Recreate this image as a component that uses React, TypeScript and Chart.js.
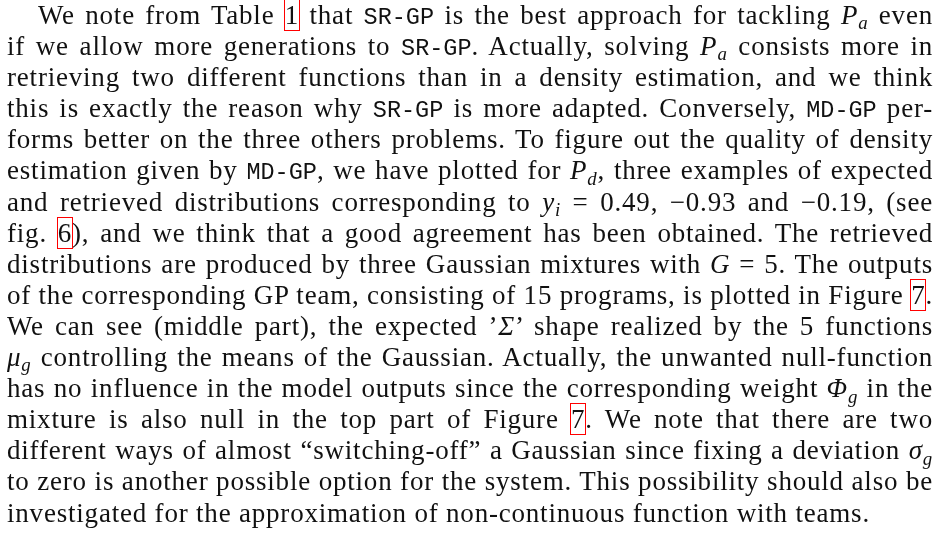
import React, { useEffect, useRef } from "react";
import { Chart, registerables } from "chart.js";

Chart.register(...registerables);

// The reference is a typeset text paragraph; no plotted series exist.
const seriesValues: number[] = [];
const categories: string[] = [];

type Seg = { t: string; k?: "mono" | "it" | "ref" | "sub" };

const lines: Seg[][] = [
  [{ t: "We note from Table " }, { t: "1", k: "ref" }, { t: " that " }, { t: "SR-GP", k: "mono" }, { t: " is the best approach for tackling " }, { t: "P", k: "it" }, { t: "a", k: "sub" }, { t: " even" }],
  [{ t: "if we allow more generations to " }, { t: "SR-GP", k: "mono" }, { t: ". Actually, solving " }, { t: "P", k: "it" }, { t: "a", k: "sub" }, { t: " consists more in" }],
  [{ t: "retrieving two different functions than in a density estimation, and we think" }],
  [{ t: "this is exactly the reason why " }, { t: "SR-GP", k: "mono" }, { t: " is more adapted. Conversely, " }, { t: "MD-GP", k: "mono" }, { t: " per-" }],
  [{ t: "forms better on the three others problems. To figure out the quality of density" }],
  [{ t: "estimation given by " }, { t: "MD-GP", k: "mono" }, { t: ", we have plotted for " }, { t: "P", k: "it" }, { t: "d", k: "sub" }, { t: ", three examples of expected" }],
  [{ t: "and retrieved distributions corresponding to " }, { t: "y", k: "it" }, { t: "i", k: "sub" }, { t: " = 0.49, \u22120.93 and \u22120.19, (see" }],
  [{ t: "fig. " }, { t: "6", k: "ref" }, { t: "), and we think that a good agreement has been obtained. The retrieved" }],
  [{ t: "distributions are produced by three Gaussian mixtures with " }, { t: "G", k: "it" }, { t: " = 5. The outputs" }],
  [{ t: "of the corresponding GP team, consisting of 15 programs, is plotted in Figure " }, { t: "7", k: "ref" }, { t: "." }],
  [{ t: "We can see (middle part), the expected \u2019" }, { t: "\u03A3", k: "it" }, { t: "\u2019 shape realized by the 5 functions" }],
  [{ t: "\u03BC", k: "it" }, { t: "g", k: "sub" }, { t: " controlling the means of the Gaussian. Actually, the unwanted null-function" }],
  [{ t: "has no influence in the model outputs since the corresponding weight " }, { t: "\u03A6", k: "it" }, { t: "g", k: "sub" }, { t: " in the" }],
  [{ t: "mixture is also null in the top part of Figure " }, { t: "7", k: "ref" }, { t: ". We note that there are two" }],
  [{ t: "different ways of almost \u201Cswitching-off\u201D a Gaussian since fixing a deviation " }, { t: "\u03C3", k: "it" }, { t: "g", k: "sub" }],
  [{ t: "to zero is another possible option for the system. This possibility should also be" }],
  [{ t: "investigated for the approximation of non-continuous function with teams." }],
];

const LINE_H = 31.1;
const FONT = 27;
const LETTER = 0.8;

function renderSeg(s: Seg, i: number) {
  if (s.k === "mono")
    return (
      <span key={i} style={{ fontFamily: "'Liberation Mono', 'DejaVu Sans Mono', monospace", fontSize: 23.5, letterSpacing: 0 }}>
        {s.t}
      </span>
    );
  if (s.k === "it") return <i key={i}>{s.t}</i>;
  if (s.k === "sub")
    return (
      <i key={i} style={{ fontSize: FONT * 0.7, position: "relative", top: FONT * 0.2 }}>
        {s.t}
      </i>
    );
  if (s.k === "ref")
    return (
      <span key={i} style={{ outline: "1.5px solid #ff0000", outlineOffset: "0px" }}>
        {s.t}
      </span>
    );
  return <React.Fragment key={i}>{s.t}</React.Fragment>;
}

export default function App() {
  const canvasRef = useRef<HTMLCanvasElement | null>(null);

  useEffect(() => {
    document.body.style.margin = "0";
    document.body.style.background = "#ffffff";
    const canvas = canvasRef.current;
    if (!canvas) return;
    const chart = new Chart(canvas, {
      type: "scatter",
      data: {
        labels: categories,
        datasets: [{ data: seriesValues, pointRadius: 0 }],
      },
      options: {
        animation: false,
        responsive: false,
        events: [],
        plugins: { legend: { display: false }, tooltip: { enabled: false } },
        scales: { x: { display: false }, y: { display: false } },
      },
    });
    return () => chart.destroy();
  }, []);

  return (
    <div style={{ position: "relative", width: 939, height: 540, background: "#fff", overflow: "hidden" }}>
      <canvas
        ref={canvasRef}
        width={939}
        height={540}
        style={{ position: "absolute", left: 0, top: 0, pointerEvents: "none" }}
      />
      <div
        style={{
          position: "absolute",
          left: 7,
          top: 0,
          width: 926,
          fontFamily: "'Liberation Serif', 'Times New Roman', serif",
          fontSize: FONT,
          letterSpacing: LETTER,
          lineHeight: `${LINE_H}px`,
          color: "#111",
        }}
      >
        {lines.map((ln, li) => {
          const last = li === lines.length - 1;
          return (
            <div
              key={li}
              style={{
                height: LINE_H,
                overflow: "visible",
                textAlign: last ? "left" : "justify",
                textAlignLast: last ? "left" : "justify",
                wordSpacing: last ? 0 : -4,
                paddingLeft: li === 0 ? 31 : 0,
              } as React.CSSProperties}
            >
              <span>{ln.map(renderSeg)}</span>
            </div>
          );
        })}
      </div>
    </div>
  );
}
